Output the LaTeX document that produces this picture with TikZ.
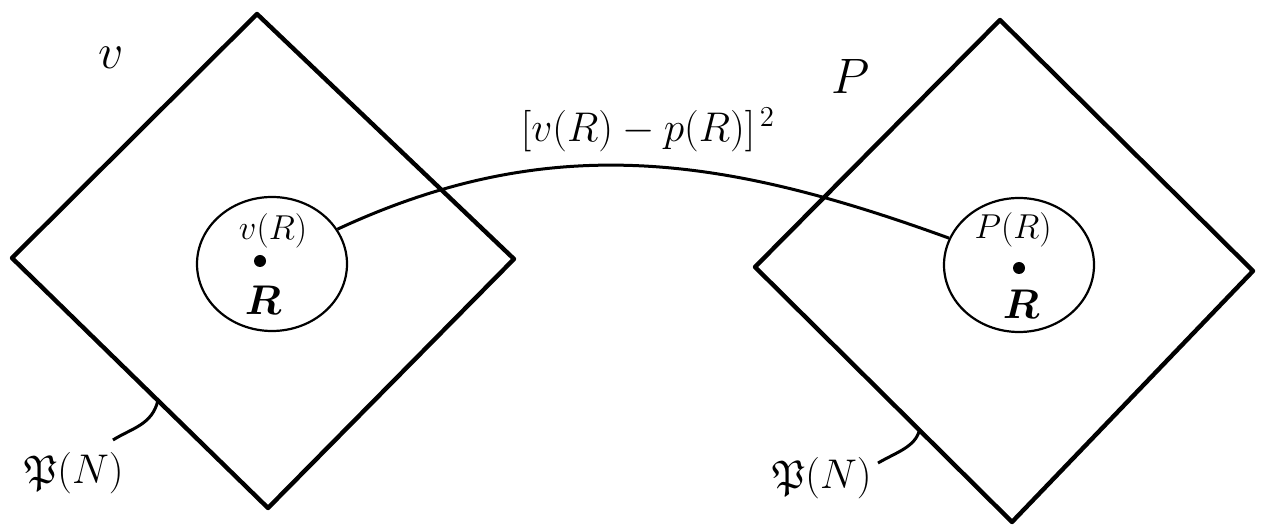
\documentclass[tikz,border=0pt]{standalone}
\usepackage{amsmath}
\usepackage{amssymb}
\usetikzlibrary{positioning,calc,shapes.geometric}

\begin{document}
\begin{tikzpicture}[
    x=0.5pt, y=-0.5pt,
    font=\fontsize{20}{24}\selectfont,
    frame/.style={draw, line width=2.2pt, line join=round},
    ball/.style={ellipse, draw, line width=1.1pt, minimum width=75pt,
                 minimum height=67pt, inner sep=0pt},
    dotmark/.style={circle, fill, inner sep=0pt, minimum size=6pt},
    wire/.style={line width=1.5pt},
    lab/.style={inner sep=1pt},
    small/.style={lab, font=\fontsize{18}{22}\selectfont},
    big/.style={lab, font=\fontsize{28}{32}\selectfont}
  ]
  \useasboundingbox (0,0) rectangle (1267,528);

  % ----- Left square: v -----
  \coordinate (vtop) at (257,14);
  \coordinate (vl) at (12,258);
  \coordinate (vr) at (514,259);
  \coordinate (vb) at (268,508);
  \draw[frame] (vtop) -- (vr) -- (vb) -- (vl) -- cycle;
  \node[ball] (vball) at (272,264) {};
  \node[small] (vval) at (273,231) {$v(R)$};
  \node[dotmark] (vdot) at (260,261) {};
  \node[lab] (vpoint) at (263,300) {$\boldsymbol{R}$};
  \node[big] (vname) at (111,58) {$v$};
  \node[lab] (vset) at (74,473) {$\mathfrak{P}(N)$};
  \coordinate (vedge) at ($(vl)!0.57!(vb)$);
  \coordinate (vtip) at (113,440);
  \draw[wire] (vedge) .. controls (152,425) and (132,428) .. (vtip);

  % ----- Right square: P -----
  \coordinate (ptop) at (1000,20);
  \coordinate (pl) at (755,267);
  \coordinate (pr) at (1253,271);
  \coordinate (pb) at (1012,522);
  \draw[frame] (ptop) -- (pr) -- (pb) -- (pl) -- cycle;
  \node[ball] (pball) at (1019,265) {};
  \node[small] (pval) at (1013,230) {$P(R)$};
  \node[dotmark] (pdot) at (1019,268) {};
  \node[lab] (ppoint) at (1021,304) {$\boldsymbol{R}$};
  \node[big] (pname) at (851,77) {$P$};
  \node[lab] (pset) at (822,478) {$\mathfrak{P}(N)$};
  \coordinate (pedge) at ($(pl)!0.64!(pb)$);
  \coordinate (ptip) at (878,463);
  \draw[wire] (pedge) .. controls (915,447) and (897,452) .. (ptip);

  % ----- Link between the two values -----
  \draw[wire] (vball.28) .. controls +(215,-100) and +(-223,-81) .. (pball.159);
  \node[lab] (dist) at (648,130) {$[v(R)-p(R)]^{\,2}$};
\end{tikzpicture}
\end{document}
